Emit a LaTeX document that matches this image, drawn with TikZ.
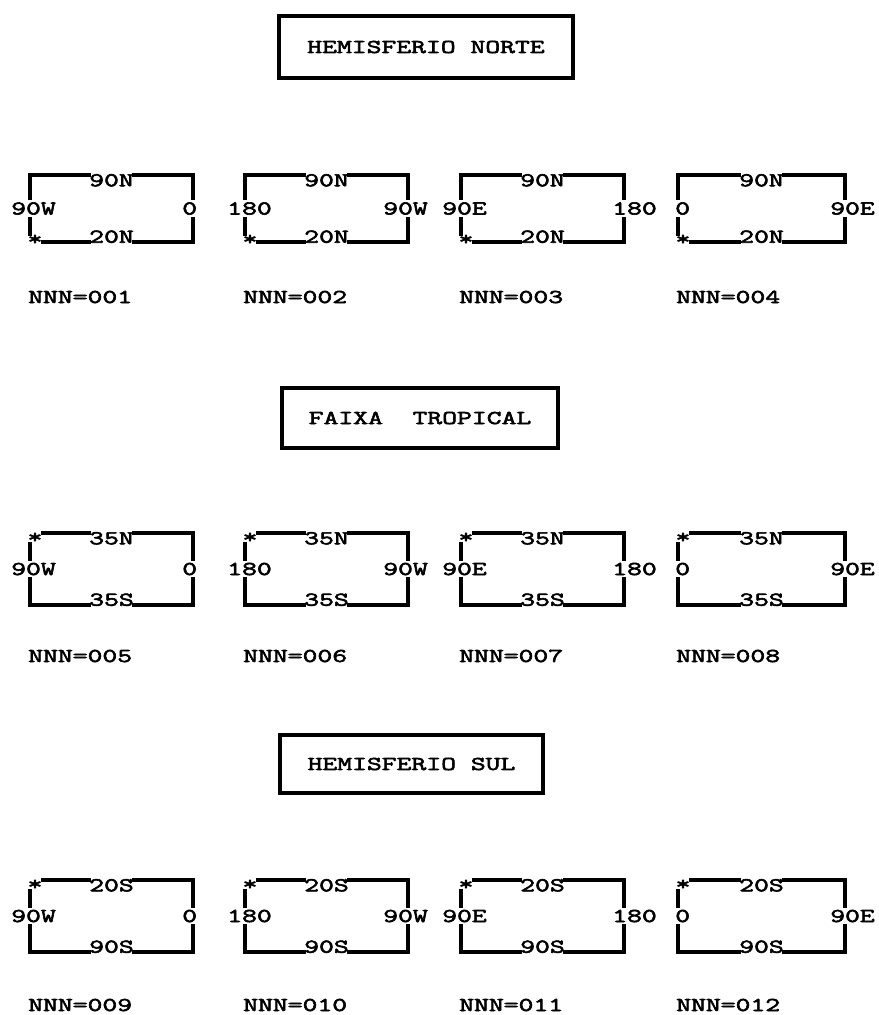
\documentclass[tikz,border=0pt]{standalone}
\usepackage{fontspec}
\newfontfamily\lblface[FakeStretch=1.47,FakeBold=3]{Latin Modern Mono}
\newcommand\lblfont{\lblface\fontsize{14.7pt}{16pt}\selectfont}
\begin{document}
\begin{tikzpicture}[x=0.75pt,y=-0.75pt,
  lbl/.style={font=\lblfont, inner sep=0pt, text height=9pt, text depth=0pt},
  side/.style={lbl, inner ysep=2.5pt, anchor=west},
  starlbl/.style={font=\lblfont, inner sep=0pt, anchor=base},
  edge/.style={line width=2.3pt, line cap=rect},
  title/.style={draw, line width=3pt, font=\lblfont, inner sep=0pt},
  nnn/.style={lbl, anchor=west}]
\useasboundingbox (0,0) rectangle (879,1015);
% titles
\node[title, minimum width=220.5pt, minimum height=46.5pt] (hn) at (426,47) {HEMISFERIO NORTE};
\node[title, minimum width=207pt, minimum height=45pt] (ft) at (420,418) {FAIXA\ \ TROPICAL};
\node[title, minimum width=197.25pt, minimum height=43.5pt] (hs) at (411.5,764) {HEMISFERIO SUL};
% boxes
\foreach \r/\Ty/\By/\tA/\bA/\sA/\Ny in {1/175/242/90N/20N/b/297, 2/533/605/35N/35S/t/656, 3/880/952/20S/90S/t/1005}{
  \foreach \c/\Lx/\Rx/\lA/\lX/\rA/\rX in {1/30/193/90W/-19/0/-11, 2/245/408/180/-18/90W/-25, 3/461/624/90E/-19/180/-12, 4/678/845/0/-3/90E/-15}{
    \pgfmathsetmacro\My{(\Ty+\By)/2}
    \pgfmathsetmacro\Mx{(\Lx+\Rx)/2}
    \pgfmathtruncatemacro\nn{(\r-1)*4+\c}
    \coordinate (TL\r\c) at (\Lx,\Ty);
    \coordinate (TR\r\c) at (\Rx,\Ty);
    \coordinate (BL\r\c) at (\Lx,\By);
    \coordinate (BR\r\c) at (\Rx,\By);
    \node[lbl, anchor=north] (tp\r\c) at (\Mx,\Ty-1) {\tA};
    \node[lbl, anchor=south] (bt\r\c) at (\Mx,\By+1) {\bA};
    \node[side] (lf\r\c) at (\Lx+\lX,\My) {\lA};
    \node[side] (rt\r\c) at (\Rx+\rX,\My) {\rA};
    \node[nnn] (n\r\c) at (\Lx-2,\Ny) {NNN=0\ifnum\nn<10 0\fi\nn};
    % right side
    \draw[edge] (tp\r\c.east |- TR\r\c) -- (TR\r\c) -- (TR\r\c |- rt\r\c.north);
    \draw[edge] (TR\r\c |- rt\r\c.south) -- (BR\r\c) -- (bt\r\c.east |- BR\r\c);
    \if\sA b
      \node[starlbl] (st\r\c) at (\Lx+5,\By+3) {*};
      \draw[edge] (TL\r\c |- lf\r\c.north) -- (TL\r\c) -- (tp\r\c.west |- TL\r\c);
      \draw[edge] (TL\r\c |- lf\r\c.south) -- (TL\r\c |- st\r\c.north);
      \draw[edge] (st\r\c.east |- BL\r\c) -- (bt\r\c.west |- BL\r\c);
    \else
      \node[starlbl] (st\r\c) at (\Lx+5,\Ty+10) {*};
      \draw[edge] (st\r\c.east |- TL\r\c) -- (tp\r\c.west |- TL\r\c);
      \draw[edge] (TL\r\c |- st\r\c.south) -- (TL\r\c |- lf\r\c.north);
      \draw[edge] (TL\r\c |- lf\r\c.south) -- (BL\r\c) -- (bt\r\c.west |- BL\r\c);
    \fi
  }
}
\end{tikzpicture}
\end{document}
